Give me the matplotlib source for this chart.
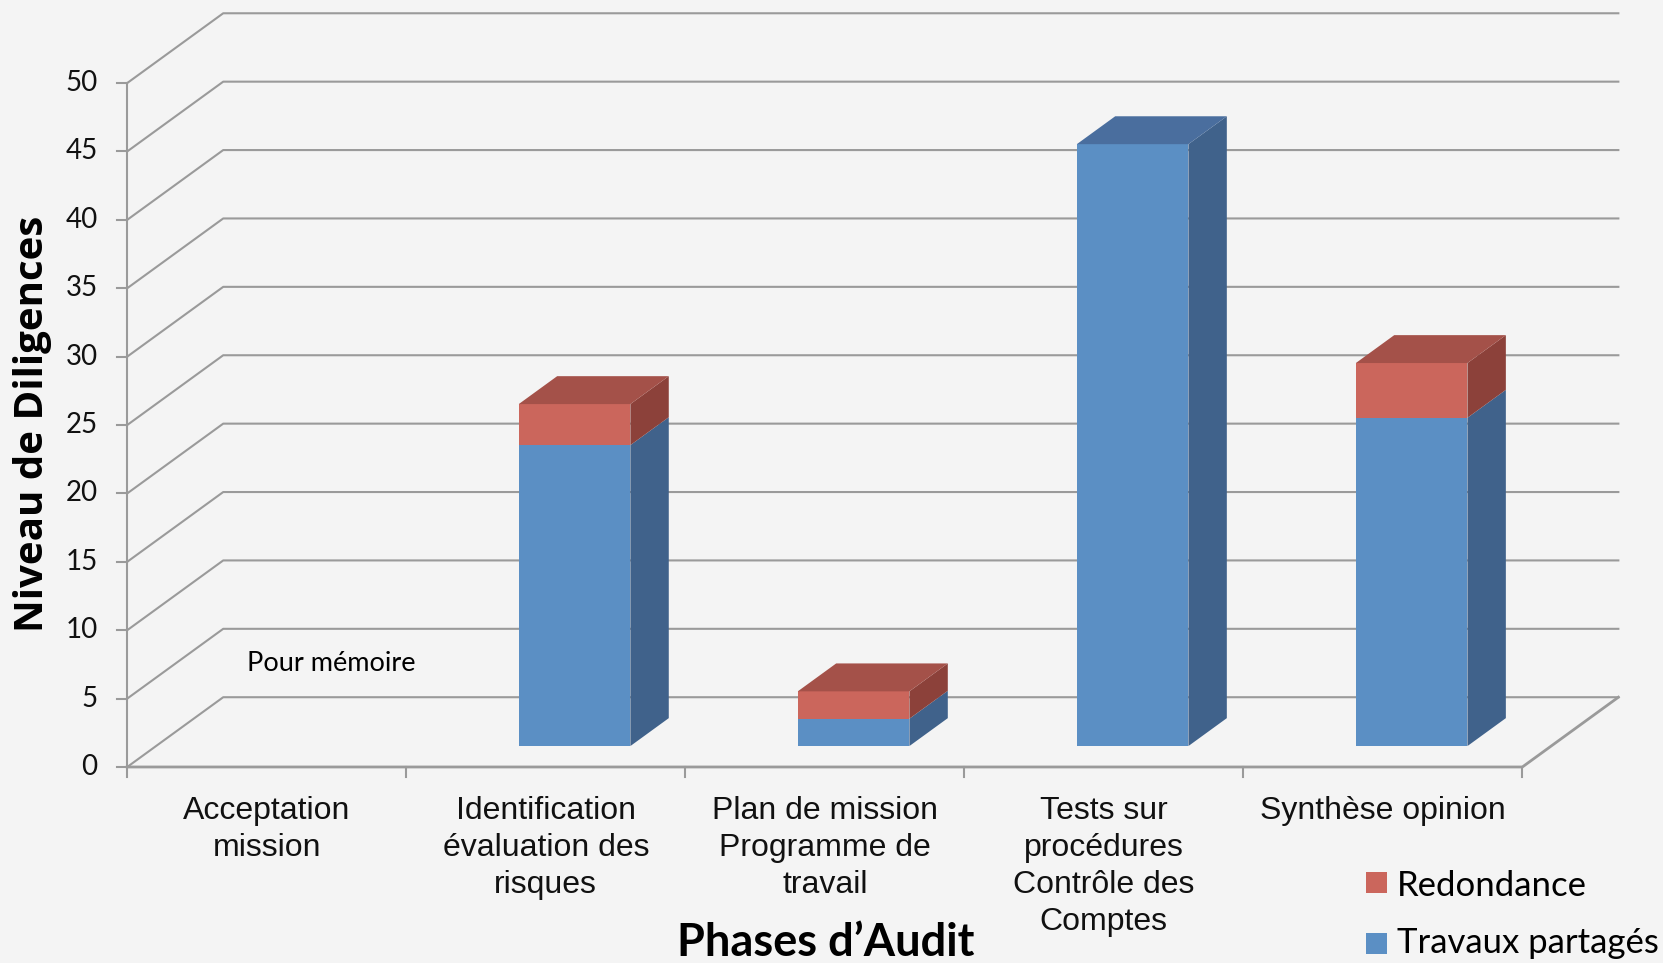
import matplotlib
matplotlib.use("Agg")
import matplotlib.pyplot as plt
from matplotlib.patches import Polygon, Rectangle

categories = ["Acceptation\nmission",
              "Identification\névaluation des\nrisques",
              "Plan de mission\nProgramme de\ntravail",
              "Tests sur\nprocédures\nContrôle des\nComptes",
              "Synthèse opinion"]
travaux = [0, 22, 2, 44, 24]
redondance = [0, 3, 2, 0, 4]
series_names = ["Redondance", "Travaux partagés"]
yticks = list(range(0, 55, 5))

# colours: front, side, top
blue = ("#5B8FC4", "#40628B", "#4A6E9E")
red = ("#CB665C", "#8C413A", "#A45149")
grid_col = "#9A9A9A"
bg = "#F4F4F4"

# oblique 3d look: depth offset in data units
DX, DY = 0.344, 5.1
D0, D1 = 0.3, 0.7
W = 0.4


def proj(x, y, d):
    return (x + d * DX, y + d * DY)


fig = plt.figure(figsize=(16.63, 9.63), dpi=100, facecolor=bg)
ax = fig.add_axes([0, 0, 1, 1])
ax.set_xlim(-0.956, 5.004)
ax.set_ylim(-14.33, 56.07)
ax.axis("off")

n = len(categories)
xl, xr = -0.5, n - 0.5

# back wall grid + left wall diagonals
for v in yticks:
    p0 = proj(xl, v, 0)
    p1 = proj(xl, v, 1)
    p2 = proj(xr, v, 1)
    ax.plot([p0[0], p1[0], p2[0]], [p0[1], p1[1], p2[1]], color=grid_col, lw=1.5, zorder=1)
    ax.plot([xl - 0.036, xl], [v, v], color=grid_col, lw=1.5, zorder=1)
    ax.text(-0.606, v, str(v), ha="right", va="center", fontsize=20,
            family="Lato", color="#111111")

# front axis, floor
ax.plot([xl, xl], [0, yticks[-1]], color=grid_col, lw=1.5, zorder=2)
pf = proj(xr, 0, 1)
ax.plot([xl, xr, pf[0]], [0, 0, pf[1]], color=grid_col, lw=2, zorder=2)
for i in range(n + 1):
    ax.plot([i - 0.5, i - 0.5], [0, -0.7], color=grid_col, lw=1.5, zorder=2)


def seg(i, y0, y1, cols, top):
    x0, x1 = i - W / 2, i + W / 2
    front = [proj(x0, y0, D0), proj(x1, y0, D0), proj(x1, y1, D0), proj(x0, y1, D0)]
    side = [proj(x1, y0, D0), proj(x1, y0, D1), proj(x1, y1, D1), proj(x1, y1, D0)]
    ax.add_patch(Polygon(front, closed=True, facecolor=cols[0], edgecolor="none", zorder=3))
    ax.add_patch(Polygon(side, closed=True, facecolor=cols[1], edgecolor="none", zorder=3))
    if top:
        tp = [proj(x0, y1, D0), proj(x1, y1, D0), proj(x1, y1, D1), proj(x0, y1, D1)]
        ax.add_patch(Polygon(tp, closed=True, facecolor=cols[2], edgecolor="none", zorder=3))


for i in range(n):
    b, r = travaux[i], redondance[i]
    if b > 0:
        seg(i, 0, b, blue, r == 0)
    if r > 0:
        seg(i, b, b + r, red, True)

ax.text(-0.071, 7.0, "Pour mémoire", ha="left", va="baseline", fontsize=19.5, family="Lato")

for i, lab in enumerate(categories):
    ax.text(i, -2.1, lab, ha="center", va="top", fontsize=23,
            family="Liberation Sans", linespacing=1.31, color="#111111")

ax.text(-0.838, 25.07, "Niveau de Diligences", rotation=90, ha="center", va="center",
        fontsize=29, family="Open Sans", fontweight="bold")
ax.text(2.004, -13.85, "Phases d\u2019Audit", ha="center", va="baseline",
        fontsize=32.5, family="Lato", fontweight="bold")

# legend
for (y0, yt), name, col in zip([(0.0727, 0.0696), (0.00935, 0.0104)], series_names, [red[0], blue[0]]):
    fig.patches.append(Rectangle((0.8214, y0), 0.01263, 0.0218, transform=fig.transFigure,
                                 facecolor=col, edgecolor="none"))
    fig.text(0.840, yt, name, ha="left", va="baseline", fontsize=25, family="Lato")

fig.savefig("out.png", dpi=100, facecolor=bg)
